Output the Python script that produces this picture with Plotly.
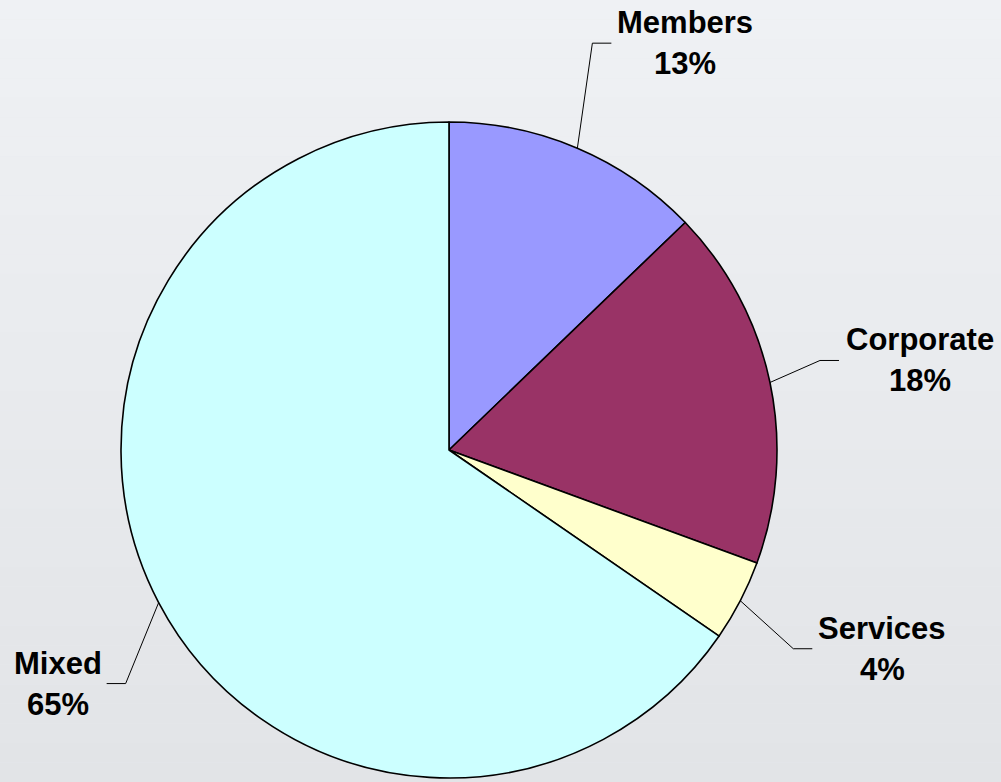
import math
import plotly.graph_objects as go

# ---- data ----
categories = ["Members", "Corporate", "Services", "Mixed"]
values = [12.8, 17.8, 4.0, 65.4]
colors = ["#9999FF", "#993366", "#FFFFCC", "#CCFFFF"]

# ---- layout / style constants (pixels) ----
W, H = 1001, 782
CX, CY, R = 449, 450, 328
# label centre offsets from slice edge point, and leader end offset from label centre
label_offsets = {"Members": (108, -105), "Corporate": (150, -22),
                 "Services": (142, 48), "Mixed": (-101, 81)}
leader_end_dx = {"Members": -74, "Corporate": -81, "Services": -70, "Mixed": 49}
ELBOW = 19
LINE_GAP = 41
FONT = dict(family="Liberation Sans, Arial, sans-serif", size=31, color="black")


def px(x):
    return x / W


def py(y):
    return 1 - y / H


fig = go.Figure()
fig.add_trace(go.Pie(
    labels=categories, values=values, sort=False, direction="clockwise",
    rotation=0, marker=dict(colors=colors, line=dict(color="black", width=1.6)),
    textinfo="none", hoverinfo="label+percent", showlegend=False,
    domain=dict(x=[px(CX - R), px(CX + R)], y=[py(CY + R), py(CY - R)]),
))

# background gradient
shapes = []
top = (239, 241, 244)
bot = (226, 228, 231)
N = 40
for i in range(N):
    t = i / (N - 1)
    c = tuple(round(top[k] + (bot[k] - top[k]) * t) for k in range(3))
    shapes.append(dict(type="rect", xref="paper", yref="paper", x0=0, x1=1,
                       y0=1 - (i + 1) / N, y1=1 - i / N, layer="below",
                       line=dict(width=0), fillcolor="rgb(%d,%d,%d)" % c))

annotations = []
total = sum(values)
cum = 0
for name, v in zip(categories, values):
    mid = (cum + v / 2) / total * 2 * math.pi
    cum += v
    ex = CX + R * math.sin(mid)
    ey = CY - R * math.cos(mid)
    dx, dy = label_offsets[name]
    lx, ly = ex + dx, ey + dy
    endx = lx + leader_end_dx[name]
    elbx = endx - ELBOW if leader_end_dx[name] < 0 else endx + ELBOW
    shapes.append(dict(type="path", xref="paper", yref="paper",
                       path="M %f,%f L %f,%f L %f,%f" % (px(ex), py(ey), px(elbx), py(ly), px(endx), py(ly)),
                       line=dict(color="black", width=1)))
    pct = "%d%%" % round(v / total * 100)
    annotations.append(dict(x=px(lx), y=py(ly - LINE_GAP / 2), xref="paper", yref="paper",
                            text="<b>%s</b>" % name, showarrow=False, font=FONT,
                            xanchor="center", yanchor="middle"))
    annotations.append(dict(x=px(lx), y=py(ly + LINE_GAP / 2), xref="paper", yref="paper",
                            text="<b>%s</b>" % pct, showarrow=False, font=FONT,
                            xanchor="center", yanchor="middle"))

fig.update_layout(width=W, height=H, margin=dict(l=0, r=0, t=0, b=0),
                  paper_bgcolor="#E9EBEE", plot_bgcolor="#E9EBEE",
                  shapes=shapes, annotations=annotations)
fig.write_html("out.html", config={"displayModeBar": False},
               post_script="document.body.style.margin='0';document.body.style.overflow='hidden';")
